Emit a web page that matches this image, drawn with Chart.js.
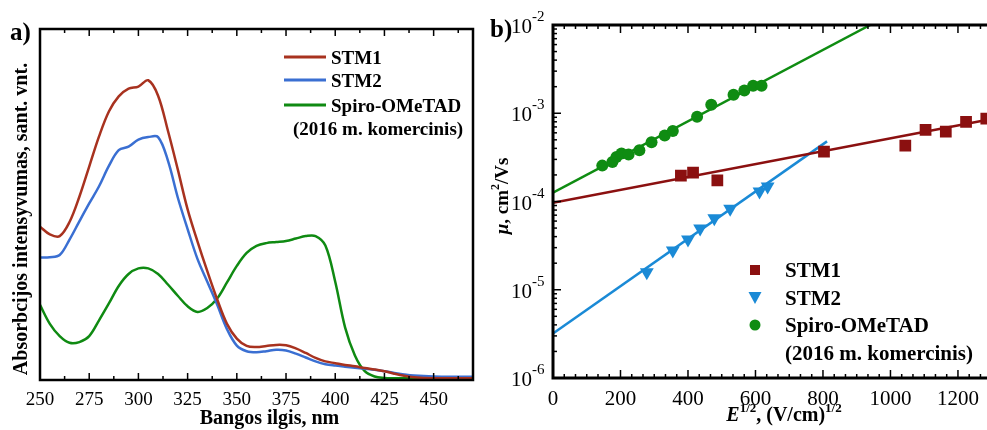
<!DOCTYPE html>
<html>
<head>
<meta charset="utf-8">
<script src="https://cdn.jsdelivr.net/npm/chart.js@4.4.0/dist/chart.umd.min.js"></script>
<style>
    html, body { margin: 0; padding: 0; background: #fff; overflow: hidden; }
    #wrap { position: relative; width: 987px; height: 430px; overflow: hidden; }
    #boxA { position: absolute; left: 0; top: 0; width: 490px; height: 430px; }
    #boxB { position: absolute; left: 490px; top: 0; width: 510px; height: 430px; }
</style>
</head>
<body>
<div id="wrap">
    <div id="boxA"><canvas id="absChart" width="490" height="430"></canvas></div>
    <div id="boxB"><canvas id="mobChart" width="510" height="430"></canvas></div>
</div>
<script>
// a) absorption spectra
var wavelength = [250, 255, 260, 265, 270, 275, 280, 285, 290, 295, 300, 305, 310, 315, 320, 325, 330, 335, 340, 345,
    350, 355, 360, 365, 370, 375, 380, 385, 390, 395, 400, 405, 410, 415, 420, 425, 430, 435, 440, 450, 460, 470];
var absStm1 = [0.437, 0.415, 0.410, 0.450, 0.522, 0.608, 0.694, 0.765, 0.808, 0.830, 0.836, 0.854, 0.810, 0.710, 0.600,
    0.486, 0.395, 0.310, 0.230, 0.160, 0.118, 0.097, 0.094, 0.097, 0.100, 0.099, 0.090, 0.077, 0.063, 0.053, 0.048,
    0.043, 0.039, 0.034, 0.030, 0.025, 0.018, 0.012, 0.008, 0.005, 0.005, 0.005];
var absStm2 = [0.349, 0.350, 0.356, 0.400, 0.452, 0.503, 0.552, 0.610, 0.655, 0.665, 0.685, 0.692, 0.692, 0.625, 0.520,
    0.430, 0.345, 0.280, 0.215, 0.145, 0.098, 0.082, 0.079, 0.082, 0.086, 0.084, 0.075, 0.064, 0.053, 0.045, 0.041,
    0.038, 0.035, 0.032, 0.029, 0.025, 0.020, 0.016, 0.013, 0.010, 0.009, 0.009];
var absSpiro = [0.214, 0.160, 0.125, 0.106, 0.108, 0.125, 0.170, 0.218, 0.268, 0.302, 0.318, 0.318, 0.302, 0.272, 0.240,
    0.210, 0.194, 0.205, 0.232, 0.278, 0.325, 0.362, 0.382, 0.390, 0.393, 0.396, 0.403, 0.410, 0.410, 0.383, 0.280,
    0.150, 0.070, 0.025, 0.010, 0.006, 0.005, 0.005, 0.005, 0.005, 0.005, 0.005];
var wlTicks = [250, 275, 300, 325, 350, 375, 400, 425, 450];

// b) mobility vs field
var stm1Field = [379, 415, 487, 803, 1044, 1104, 1164, 1224, 1284];
var stm1Mob = [1.97e-4, 2.13e-4, 1.73e-4, 3.67e-4, 4.3e-4, 6.5e-4, 6.2e-4, 8.0e-4, 8.7e-4];
var stm2Field = [278, 355, 400, 436, 478, 525, 612, 636];
var stm2Mob = [1.58e-5, 2.79e-5, 3.7e-5, 4.95e-5, 6.45e-5, 8.3e-5, 1.3e-4, 1.48e-4];
var spiroField = [146, 176, 188, 203, 224, 256, 292, 331, 355, 427, 469, 535, 567, 593, 618];
var spiroMob = [2.55e-4, 2.8e-4, 3.2e-4, 3.5e-4, 3.4e-4, 3.8e-4, 4.7e-4, 5.6e-4, 6.3e-4, 9.1e-4, 1.25e-3, 1.62e-3,
    1.81e-3, 2.05e-3, 2.05e-3];
var stm1FitField = [0, 1300];
var stm1FitMob = [9.7e-5, 8.6e-4];
var stm2FitField = [0, 812];
var stm2FitMob = [3.2e-6, 4.8e-4];
var spiroFitField = [0, 940];
var spiroFitMob = [1.26e-4, 1e-2];
var fieldTicks = [0, 200, 400, 600, 800, 1000, 1200];
var mobDecades = [-6, -5, -4, -3, -2];

var SERIF = '"Liberation Serif", "Times New Roman", serif';

function pairs(xs, ys) {
    return xs.map(function (x, i) { return { x: x, y: ys[i] }; });
}

// draws pieces of text with different fonts / offsets one after another
function drawRuns(ctx, runs, x, y, align) {
    var total = 0;
    runs.forEach(function (r) { ctx.font = r.font; r.w = ctx.measureText(r.text).width; total += r.w; });
    var cx = align === 'center' ? x - total / 2 : (align === 'right' ? x - total : x);
    ctx.textAlign = 'left';
    runs.forEach(function (r) {
        ctx.font = r.font;
        ctx.fillText(r.text, cx, y + (r.dy || 0));
        cx += r.w;
    });
}

var absFrame = {
    id: 'absFrame',
    afterDraw: function (chart) {
        var ctx = chart.ctx, a = chart.chartArea, xs = chart.scales.x;
        ctx.save();
        ctx.strokeStyle = '#000';
        ctx.fillStyle = '#000';
        ctx.lineWidth = 2.5;
        ctx.strokeRect(a.left, a.top, a.right - a.left, a.bottom - a.top);

        ctx.lineWidth = 1.5;
        wlTicks.forEach(function (w) {
            [w, w + 12.5].forEach(function (v, k) {
                if (v > xs.max) return;
                var px = xs.getPixelForValue(v), len = k === 0 ? 7 : 4;
                ctx.beginPath();
                ctx.moveTo(px, a.bottom); ctx.lineTo(px, a.bottom - len);
                ctx.moveTo(px, a.top); ctx.lineTo(px, a.top + len);
                ctx.stroke();
            });
        });

        ctx.font = '19px ' + SERIF;
        ctx.textAlign = 'center';
        ctx.textBaseline = 'alphabetic';
        wlTicks.forEach(function (w) {
            ctx.fillText(String(w), xs.getPixelForValue(w), 405);
        });

        ctx.font = 'bold 20px ' + SERIF;
        ctx.fillText('Bangos ilgis, nm', (a.left + a.right) / 2 + 13, 424);

        ctx.save();
        ctx.translate(27, 219);
        ctx.rotate(-Math.PI / 2);
        ctx.fillText('Absorbcijos intensyvumas, sant. vnt.', 0, 0);
        ctx.restore();

        ctx.font = 'bold 25px ' + SERIF;
        ctx.textAlign = 'left';
        ctx.fillText('a)', 10, 40);

        // legend
        var items = [['STM1', '#a8321f', 57], ['STM2', '#3a6fd2', 80], ['Spiro-OMeTAD', '#0f8a12', 105]];
        ctx.font = 'bold 19px ' + SERIF;
        ctx.lineWidth = 3;
        items.forEach(function (it) {
            ctx.strokeStyle = it[1];
            ctx.beginPath();
            ctx.moveTo(284, it[2]); ctx.lineTo(326, it[2]);
            ctx.stroke();
            ctx.fillText(it[0], 331, it[2] + 6.5);
        });
        ctx.fillText('(2016 m. komercinis)', 293, 135);
        ctx.restore();
    }
};

var mobFrame = {
    id: 'mobFrame',
    afterDraw: function (chart) {
        var ctx = chart.ctx, a = chart.chartArea, xs = chart.scales.x, ys = chart.scales.y;
        ctx.save();
        ctx.strokeStyle = '#000';
        ctx.fillStyle = '#000';
        ctx.lineWidth = 3;
        ctx.strokeRect(a.left, a.top, a.right - a.left, a.bottom - a.top);

        ctx.lineWidth = 1.5;
        mobDecades.forEach(function (d) {
            var py = ys.getPixelForValue(Math.pow(10, d));
            ctx.beginPath();
            ctx.moveTo(a.left, py); ctx.lineTo(a.left + 8, py);
            ctx.stroke();
            if (d === -2) return;
            for (var k = 2; k <= 9; k++) {
                var my = ys.getPixelForValue(k * Math.pow(10, d));
                ctx.beginPath();
                ctx.moveTo(a.left, my); ctx.lineTo(a.left + 4, my);
                ctx.stroke();
            }
        });
        fieldTicks.forEach(function (f) {
            for (var k = 0; k < 6; k++) {
                var v = f + k * 200 / 6;
                if (v > xs.max) break;
                var px = xs.getPixelForValue(v), len = k === 0 ? 8 : 4;
                ctx.beginPath();
                ctx.moveTo(px, a.bottom); ctx.lineTo(px, a.bottom - len);
                ctx.moveTo(px, a.top); ctx.lineTo(px, a.top + len);
                ctx.stroke();
            }
        });

        ctx.textBaseline = 'alphabetic';
        ctx.font = '21px ' + SERIF;
        ctx.textAlign = 'center';
        fieldTicks.forEach(function (f) {
            ctx.fillText(String(f), xs.getPixelForValue(f), 405);
        });

        mobDecades.forEach(function (d) {
            var py = ys.getPixelForValue(Math.pow(10, d));
            ctx.font = '21px ' + SERIF;
            ctx.textAlign = 'right';
            ctx.fillText('10', 42, py + 8);
            ctx.font = '15px ' + SERIF;
            ctx.textAlign = 'left';
            ctx.fillText('-' + (-d), 42, py - 4);
        });

        // axis titles
        drawRuns(ctx, [
            { text: 'E', font: 'italic bold 20px ' + SERIF },
            { text: '1/2', font: 'bold 13px ' + SERIF, dy: -9 },
            { text: ', (V/cm)', font: 'bold 20px ' + SERIF },
            { text: '1/2', font: 'bold 13px ' + SERIF, dy: -9 }
        ], 294, 421, 'center');

        ctx.save();
        ctx.translate(18, 196);
        ctx.rotate(-Math.PI / 2);
        drawRuns(ctx, [
            { text: '\u03bc', font: 'italic bold 19px ' + SERIF },
            { text: ', cm', font: 'bold 19px ' + SERIF },
            { text: '2', font: 'bold 12px ' + SERIF, dy: -9 },
            { text: '/Vs', font: 'bold 19px ' + SERIF }
        ], 0, 0, 'center');
        ctx.restore();

        ctx.font = 'bold 25px ' + SERIF;
        ctx.textAlign = 'left';
        ctx.fillText('b)', 0, 37);

        // legend
        var lx = 265;
        ctx.fillStyle = '#8b1010';
        ctx.fillRect(lx - 5, 265, 10, 10);
        ctx.fillStyle = '#1a8ad6';
        ctx.beginPath();
        ctx.moveTo(lx - 6.5, 292); ctx.lineTo(lx + 6.5, 292); ctx.lineTo(lx, 304); ctx.closePath();
        ctx.fill();
        ctx.fillStyle = '#0f8c12';
        ctx.beginPath();
        ctx.arc(lx, 325, 5.5, 0, Math.PI * 2);
        ctx.fill();

        ctx.fillStyle = '#000';
        ctx.font = 'bold 21px ' + SERIF;
        ctx.fillText('STM1', 295, 277);
        ctx.fillText('STM2', 295, 305);
        ctx.fillText('Spiro-OMeTAD', 295, 332);
        ctx.fillText('(2016 m. komercinis)', 295, 360);
        ctx.restore();
    }
};

function curve(label, values, color) {
    return {
        label: label,
        data: pairs(wavelength, values),
        borderColor: color,
        borderWidth: 2.5,
        pointRadius: 0,
        fill: false,
        tension: 0.35
    };
}

new Chart(document.getElementById('absChart').getContext('2d'), {
    type: 'line',
    data: {
        datasets: [
            curve('STM1', absStm1, '#a8321f'),
            curve('STM2', absStm2, '#3a6fd2'),
            curve('Spiro-OMeTAD', absSpiro, '#0f8a12')
        ]
    },
    options: {
        responsive: false,
        animation: false,
        events: [],
        layout: { padding: { left: 40, right: 17, top: 29, bottom: 50 } },
        plugins: { legend: { display: false }, tooltip: { enabled: false } },
        scales: {
            x: { type: 'linear', min: 250, max: 470, display: false },
            y: { type: 'linear', min: 0, max: 1, display: false }
        }
    },
    plugins: [absFrame]
});

function fitLine(label, xs, ys, color) {
    return {
        label: label,
        data: pairs(xs, ys),
        showLine: true,
        borderColor: color,
        borderWidth: 2.5,
        pointRadius: 0,
        order: 2
    };
}

function marks(label, xs, ys, color, style, radius, rotation) {
    return {
        label: label,
        data: pairs(xs, ys),
        showLine: false,
        pointStyle: style,
        pointRadius: radius,
        pointRotation: rotation || 0,
        backgroundColor: color,
        borderColor: color,
        borderWidth: 0,
        order: 1
    };
}

new Chart(document.getElementById('mobChart').getContext('2d'), {
    type: 'scatter',
    data: {
        datasets: [
            fitLine('STM1 fit', stm1FitField, stm1FitMob, '#8b1010'),
            fitLine('STM2 fit', stm2FitField, stm2FitMob, '#1a8ad6'),
            fitLine('Spiro fit', spiroFitField, spiroFitMob, '#0f8c12'),
            marks('STM1', stm1Field, stm1Mob, '#8b1010', 'rect', 8.3),
            marks('STM2', stm2Field, stm2Mob, '#1a8ad6', 'triangle', 8, 180),
            marks('Spiro-OMeTAD', spiroField, spiroMob, '#0f8c12', 'circle', 6)
        ]
    },
    options: {
        responsive: false,
        animation: false,
        events: [],
        layout: { padding: { left: 63, right: 7, top: 25, bottom: 52 } },
        plugins: { legend: { display: false }, tooltip: { enabled: false } },
        scales: {
            x: { type: 'linear', min: 0, max: 1300, display: false },
            y: { type: 'logarithmic', min: 1e-6, max: 1e-2, display: false }
        }
    },
    plugins: [mobFrame]
});
</script>
</body>
</html>
